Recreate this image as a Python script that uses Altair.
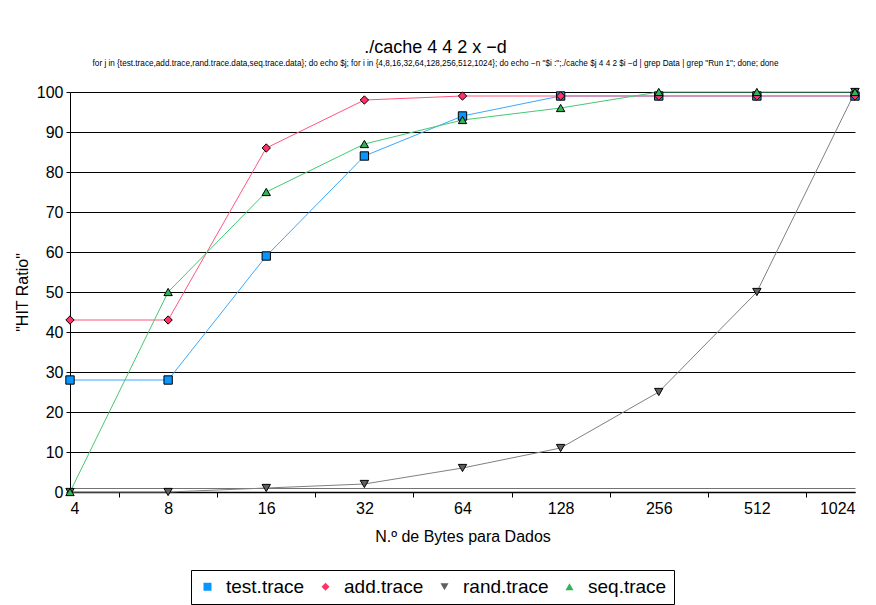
import math

import altair as alt
import pandas as pd

# Cache simulation: hit ratio vs. data-cache size, one series per trace
bytes_sizes = [4, 8, 16, 32, 64, 128, 256, 512, 1024]
series_names = ["test.trace", "add.trace", "rand.trace", "seq.trace"]
test_trace = [28, 28, 59, 84, 94, 99, 99, 99, 99]
add_trace = [43, 43, 86, 98, 99, 99, 99, 99, 99]
rand_trace = [0, 0, 1, 2, 6, 11, 25, 50, 100]
seq_trace = [0, 50, 75, 87, 93, 96, 100, 100, 100]
y_ticks = [0, 1, 10, 20, 30, 40, 50, 60, 70, 80, 90, 100]

marker_fill = ["#0a96ff", "#ff3366", "#5f5f5f", "#2fb457"]
line_stroke = ["#3aa8ff", "#ff5580", "#808080", "#45c872"]
marker_shape = ["square", "diamond", "triangle-down", "triangle-up"]

FONT = "Liberation Sans"

rows = []
for name, values in zip(series_names, [test_trace, add_trace, rand_trace, seq_trace]):
    for size, v in zip(bytes_sizes, values):
        rows.append({"bytes": size, "hit": v, "trace": name})
df = pd.DataFrame(rows)

# minor ticks sit halfway (in log space) between the labelled sizes
mid_ticks = [math.sqrt(a * b) for a, b in zip(bytes_sizes[:-1], bytes_sizes[1:])]
x_values = sorted(bytes_sizes + mid_ticks)
is_label = "datum.value == floor(datum.value)"

x_enc = alt.X(
    "bytes:Q",
    scale=alt.Scale(type="log", base=2, domain=[4, 1024], nice=False),
    axis=alt.Axis(
        values=x_values,
        format="d",
        labelExpr=f"{is_label} ? datum.label : ''",
        title="N.º de Bytes para Dados",
        grid=False,
        tickSize=5,
        tickColor="#000",
        tickOpacity={"condition": {"test": is_label, "value": 0}, "value": 1},
        domainColor="#000",
        domainWidth=1.5,
        labelPadding=3,
        titlePadding=12,
    ),
)
y_enc = alt.Y(
    "hit:Q",
    scale=alt.Scale(domain=[0, 100], nice=False),
    axis=alt.Axis(
        values=y_ticks,
        labelExpr="datum.value == 1 ? '' : datum.label",
        title='"HIT Ratio"',
        grid=True,
        gridColor="#000",
        gridOpacity={"condition": {"test": "datum.value == 1", "value": 0.55}, "value": 1},
        tickSize=4,
        tickColor="#000",
        tickOpacity={"condition": {"test": "datum.value == 1", "value": 0}, "value": 1},
        domainColor="#000",
        labelPadding=3,
        titlePadding=6,
    ),
)

legend = alt.Legend(
    title=None,
    orient="none",
    legendX=121,
    legendY=478,
    direction="horizontal",
    strokeColor="#000",
    fillColor="#fff",
    padding=7,
    labelFont=FONT,
    labelFontSize=19,
    labelColor="#000",
    labelOffset=9,
    columnPadding=11,
    symbolSize=64,
    symbolStrokeColor="#000",
    symbolStrokeWidth=1,
)

lines = alt.Chart(df).mark_line(strokeWidth=1).encode(
    x=x_enc,
    y=y_enc,
    stroke=alt.Stroke(
        "trace:N",
        scale=alt.Scale(domain=series_names, range=line_stroke),
        legend=None,
    ),
    detail="trace:N",
)

points = alt.Chart(df).mark_point(
    filled=True, strokeWidth=1, size=70, opacity=1
).encode(
    x=x_enc,
    y=y_enc,
    fill=alt.Fill(
        "trace:N",
        scale=alt.Scale(domain=series_names, range=marker_fill),
        legend=legend,
    ),
    shape=alt.Shape(
        "trace:N",
        scale=alt.Scale(domain=series_names, range=marker_shape),
        legend=legend,
    ),
    stroke=alt.value("#000"),
)

chart = (
    alt.layer(lines, points)
    .resolve_scale(fill="independent", shape="independent", stroke="independent")
    .properties(
        width=785,
        height=400,
        autosize=alt.AutoSizeParams(type="none"),
        padding={"left": 70, "top": 92, "right": 21, "bottom": 113},
        title=alt.TitleParams(
            text="./cache 4 4 2 x −d",
            subtitle='for j in {test.trace,add.trace,rand.trace.data,seq.trace.data}; do echo $j; '
            'for i in {4,8,16,32,64,128,256,512,1024}; do echo −n "$i :";./cache $j 4 4 2 $i −d '
            '| grep Data | grep "Run 1"; done; done',
            font=FONT,
            fontSize=18,
            fontWeight="normal",
            color="#000",
            subtitleFont=FONT,
            subtitleFontSize=8.2,
            subtitleColor="#000",
            subtitlePadding=3,
            anchor="middle",
            dx=-27,
            offset=17,
        ),
    )
    .configure(background="white")
    .configure_view(stroke=None)
    .configure_axis(
        labelFont=FONT,
        labelFontSize=16,
        labelColor="#000",
        titleFont=FONT,
        titleFontSize=16,
        titleFontWeight="normal",
        titleColor="#000",
    )
)

chart.save("out.html", embed_options={"renderer": "svg", "actions": False})
